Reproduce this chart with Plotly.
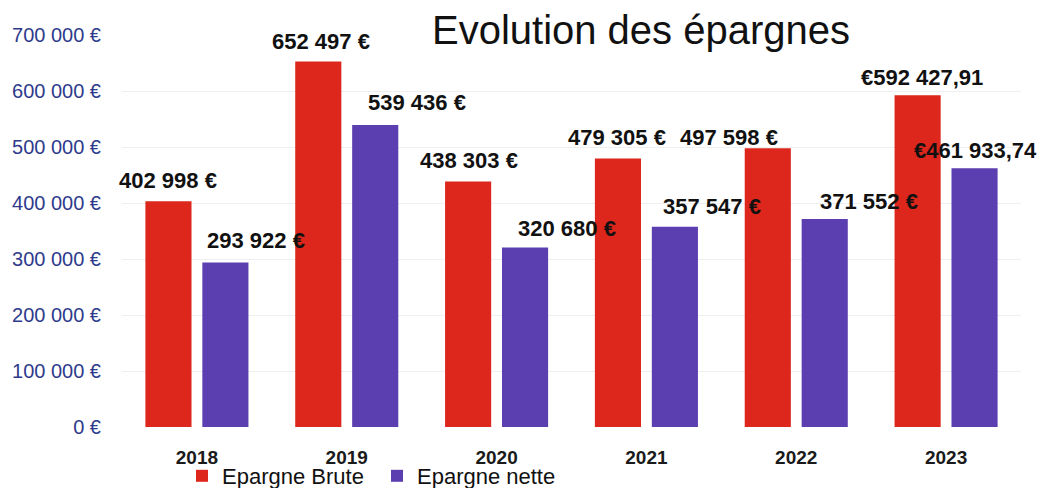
import plotly.graph_objects as go

years = ["2018", "2019", "2020", "2021", "2022", "2023"]
brute = [402998, 652497, 438303, 479305, 497598, 592427.91]
nette = [293922, 539436, 320680, 357547, 371552, 461933.74]
brute_labels = ["402 998 €", "652 497 €", "438 303 €", "479 305 €", "497 598 €", "€592 427,91"]
nette_labels = ["293 922 €", "539 436 €", "320 680 €", "357 547 €", "371 552 €", "€461 933,74"]
y_tickvals = [0, 100000, 200000, 300000, 400000, 500000, 600000, 700000]
y_ticktext = ["0 €", "100 000 €", "200 000 €", "300 000 €", "400 000 €", "500 000 €", "600 000 €", "700 000 €"]

# label placement offsets (pixels, relative to category centre / bar top)
brute_dx = [-29, -26, -28, -29, -67, -24]
brute_dy = [21, 20, 21, 21, 11, 18]
nette_dx = [59, 70, 70, 66, 73, 29]
nette_dy = [22, 22, 19, 20, 17, 18]

RED = "#dd261c"
PURPLE = "#5b3fb0"
FONT = "Liberation Sans, Arial, sans-serif"

fig = go.Figure()
fig.add_trace(go.Bar(x=years, y=brute, name="Epargne Brute", marker=dict(color=RED, line=dict(width=0))))
fig.add_trace(go.Bar(x=years, y=nette, name="Epargne nette", marker=dict(color=PURPLE, line=dict(width=0))))

for i, (v, t, dx, dy) in enumerate(zip(brute, brute_labels, brute_dx, brute_dy)):
    fig.add_annotation(x=i, y=v, xref="x", yref="y", text="<b>" + t + "</b>", showarrow=False,
                       xshift=dx, yshift=dy, xanchor="center", yanchor="middle",
                       font=dict(family=FONT, size=22, color="#111111"))
for i, (v, t, dx, dy) in enumerate(zip(nette, nette_labels, nette_dx, nette_dy)):
    fig.add_annotation(x=i, y=v, xref="x", yref="y", text="<b>" + t + "</b>", showarrow=False,
                       xshift=dx, yshift=dy, xanchor="center", yanchor="middle",
                       font=dict(family=FONT, size=22, color="#111111"))

fig.update_layout(
    width=1045, height=488,
    margin=dict(l=114, r=32, t=27, b=69, autoexpand=False),
    paper_bgcolor="white", plot_bgcolor="white",
    barmode="group", bargap=0.24, bargroupgap=0.19,
    title=dict(text="Evolution des épargnes", x=633/1045, xanchor="center", xref="container",
               y=1 - 22/488, yref="container", yanchor="middle",
               font=dict(family=FONT, size=40, color="#111111")),
    legend=dict(orientation="h", x=174/1045, xanchor="left", xref="container",
                y=1 - 468/488, yanchor="middle", yref="container",
                font=dict(family=FONT, size=22, color="#111111"),
                entrywidth=150, entrywidthmode="pixels",
                bgcolor="rgba(0,0,0,0)", itemclick=False),
    showlegend=True,
)
fig.update_yaxes(range=[0, 700000], tickvals=y_tickvals, ticktext=y_ticktext,
                 tickfont=dict(family=FONT, size=20, color="#2e3b8c"),
                 showgrid=True, gridcolor="#efefef", gridwidth=1, zeroline=False,
                 showline=False, ticks="", ticklabelstandoff=20, automargin=False)
fig.update_xaxes(type="category", tickfont=dict(family=FONT, size=19, color="#1a1a1a"),
                 tickvals=years, ticktext=["<b>" + y + "</b>" for y in years],
                 showgrid=False, showline=False, ticks="", ticklabelstandoff=17,
                 range=[-0.5, 5.5], automargin=False)

fig.write_html("out.html")
